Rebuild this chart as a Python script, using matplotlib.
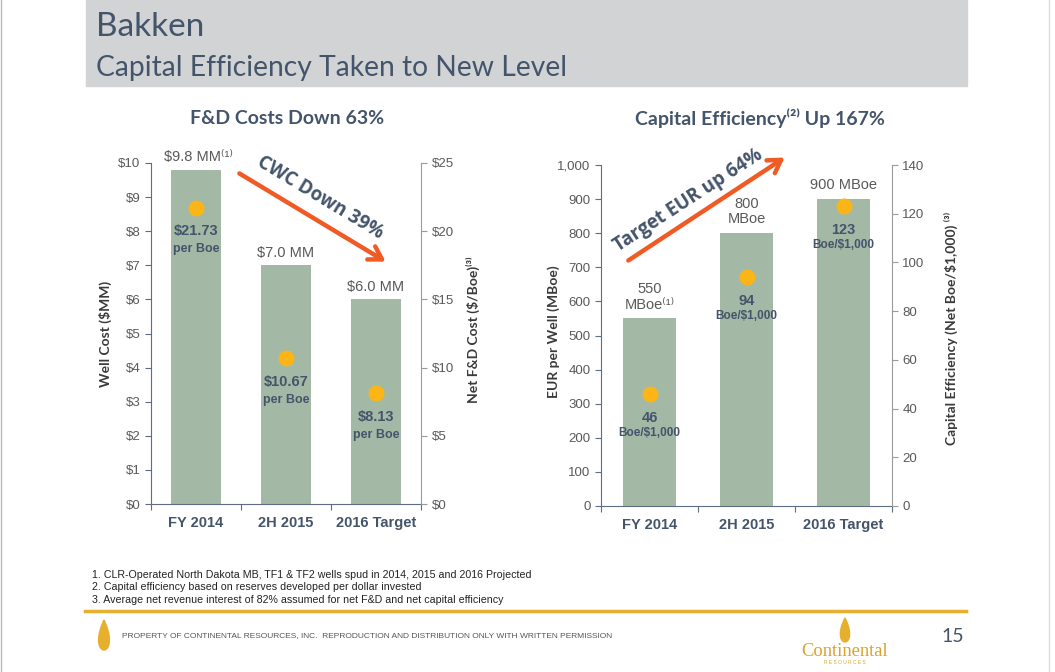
import matplotlib
matplotlib.use("Agg")
import matplotlib.pyplot as plt
import numpy as np
from matplotlib.patches import Rectangle, Polygon
from matplotlib.text import Annotation

plt.rcParams['text.parse_math'] = False
plt.rcParams['font.family'] = ['Liberation Sans', 'DejaVu Sans']

# data
categories = ['FY 2014', '2H 2015', '2016 Target']
well_cost = [9.8, 7.0, 6.0]            # $MM
fd_cost = [21.73, 10.67, 8.13]         # $/Boe
well_labels = ['$9.8 MM⁽¹⁾', '$7.0 MM', '$6.0 MM']
fd_labels = ['$21.73', '$10.67', '$8.13']

eur = [550, 800, 900]                  # MBoe
cap_eff = [46, 94, 123]                # Boe/$1,000
eur_labels = ['550\nMBoe⁽¹⁾', '800\nMBoe', '900 MBoe']

W, H = 1055, 672
BAR = '#a3b9a6'
SLATE = '#44546a'
GRAY = '#595959'
DOT = '#fbb516'
ARROW = '#f05a24'
GOLD = '#e6b02e'
TITLE_FONT = ['Lato', 'DejaVu Sans']


def fx(px):
    return px / W


def fy(py):
    return 1 - py / H


fig = plt.figure(figsize=(W / 100, H / 100), dpi=100)

# slide decoration
fig.patches.append(Rectangle((fx(86), fy(86)), fx(967) - fx(86), fy(0) - fy(86),
                             transform=fig.transFigure, color='#d1d3d5', zorder=0))
fig.lines.append(plt.Line2D([fx(1), fx(1)], [0, 1], transform=fig.transFigure, color='#bbbbbb', lw=1))
fig.lines.append(plt.Line2D([fx(1049), fx(1049)], [0, 1], transform=fig.transFigure, color='#dddddd', lw=1))
fig.text(fx(96), fy(36), 'Bakken', fontsize=24, color=SLATE, family=TITLE_FONT)
fig.text(fx(96), fy(76), 'Capital Efficiency Taken to New Level', fontsize=20.3, color=SLATE, family=TITLE_FONT)

fig.text(fx(287), fy(118), 'F&D Costs Down 63%', fontsize=14, fontweight='bold', color=SLATE,
         ha='center', va='center', family=TITLE_FONT)
fig.text(fx(760), fy(118), 'Capital Efficiency⁽²⁾ Up 167%', fontsize=14, fontweight='bold', color=SLATE,
         ha='center', va='center', family=TITLE_FONT)


def style_axes(ax, ax2):
    ax.set_xlim(-0.5, 2.5)
    for s in ['top', 'right']:
        ax.spines[s].set_visible(False)
    ax.spines['left'].set_color('#5d6d84')
    ax.spines['bottom'].set_color('#5d6d84')
    for s in ['top', 'left', 'bottom']:
        ax2.spines[s].set_visible(False)
    ax2.spines['right'].set_color('#9a9a9a')
    ax.tick_params(axis='y', colors='#5d6d84', labelcolor=GRAY, labelsize=9.5, length=4)
    ax2.tick_params(axis='y', colors='#9a9a9a', labelcolor=GRAY, labelsize=9.5, length=4)
    ax.set_xticks([-0.5, 0.5, 1.5, 2.5])
    ax.set_xticklabels([])
    ax.tick_params(axis='x', colors='#5d6d84', length=4)
    for i, c in enumerate(categories):
        ax.text(i, -0.055, c, transform=ax.get_xaxis_transform(), ha='center', va='center',
                fontsize=10.5, fontweight='bold', color=SLATE)


# left chart
ax = fig.add_axes([fx(151), fy(504), fx(421) - fx(151), fy(163) - fy(504)])
ax2 = ax.twinx()
x = np.arange(len(categories))
ax.bar(x, well_cost, width=0.55, color=BAR, zorder=1)
ax.set_ylim(0, 10)
ax.set_yticks(range(0, 11))
ax.set_yticklabels(['$%d' % v for v in range(0, 11)])
ax2.set_ylim(0, 25)
ax2.set_yticks(range(0, 26, 5))
ax2.set_yticklabels(['$%d' % v for v in range(0, 26, 5)])
style_axes(ax, ax2)
ax2.plot(x, fd_cost, 'o', color=DOT, markersize=10.5, zorder=3)
for i in x:
    ax.annotate(well_labels[i], (i, well_cost[i]), xytext=(2 if i == 0 else 0, 4), textcoords='offset points',
                ha='center', va='bottom', fontsize=10.5, color=GRAY)
    ax2.annotate(fd_labels[i], (i, fd_cost[i]), xytext=(0, -17), textcoords='offset points',
                 ha='center', va='center', fontsize=10.5, fontweight='bold', color=SLATE)
    ax2.annotate('per Boe', (i, fd_cost[i]), xytext=(0, -30), textcoords='offset points',
                 ha='center', va='center', fontsize=9, fontweight='bold', color=SLATE)
ax.set_ylabel('Well Cost ($MM)', fontsize=10, fontweight='bold', color='#3a3a3a', family=TITLE_FONT)
ax.yaxis.set_label_coords(-0.144, 0.5)
ax2.set_ylabel('Net F&D Cost ($/Boe)⁽³⁾', fontsize=10, fontweight='bold', color='#3a3a3a', family=TITLE_FONT,
               rotation=90)
ax2.yaxis.set_label_coords(1.167, 0.51)

# right chart
bx = fig.add_axes([fx(601), fy(506), fx(892) - fx(601), fy(165) - fy(506)])
bx2 = bx.twinx()
bx.bar(x, eur, width=0.55, color=BAR, zorder=1)
bx.set_ylim(0, 1000)
bx.set_yticks(range(0, 1001, 100))
bx.set_yticklabels(['{:,}'.format(v) for v in range(0, 1001, 100)])
bx2.set_ylim(0, 140)
bx2.set_yticks(range(0, 141, 20))
style_axes(bx, bx2)
bx2.plot(x, cap_eff, 'o', color=DOT, markersize=10.5, zorder=3)
for i in x:
    bx.annotate(eur_labels[i], (i, eur[i]), xytext=(0, 5), textcoords='offset points',
                ha='center', va='bottom', fontsize=10.5, color=GRAY, linespacing=1.15)
    bx2.annotate(str(cap_eff[i]), (i, cap_eff[i]), xytext=(0, -17), textcoords='offset points',
                 ha='center', va='center', fontsize=10.5, fontweight='bold', color=SLATE)
    bx2.annotate('Boe/$1,000', (i, cap_eff[i]), xytext=(0, -28), textcoords='offset points',
                 ha='center', va='center', fontsize=8.5, fontweight='bold', color=SLATE)
bx.set_ylabel('EUR per Well (MBoe)', fontsize=10, fontweight='bold', color='#3a3a3a', family=TITLE_FONT)
bx.yaxis.set_label_coords(-0.141, 0.51)
bx2.set_ylabel('Capital Efficiency (Net Boe/$1,000) ⁽³⁾', fontsize=10, fontweight='bold', color='#3a3a3a',
               family=TITLE_FONT, rotation=90)
bx2.yaxis.set_label_coords(1.179, 0.52)

# arrows
ann = dict(arrowstyle='->,head_length=0.9,head_width=0.55', color=ARROW, lw=3.2)
fig.add_artist(Annotation('', xy=(fx(388), fy(263)), xytext=(fx(237), fy(172)),
                          xycoords='figure fraction', textcoords='figure fraction', arrowprops=ann))
fig.add_artist(Annotation('', xy=(fx(787), fy(156)), xytext=(fx(626), fy(262)),
                          xycoords='figure fraction', textcoords='figure fraction', arrowprops=ann))
fig.text(fx(320), fy(198), 'CWC Down 39%', rotation=-31, rotation_mode='anchor', ha='center', va='center',
         fontsize=13.5, fontweight='bold', color=SLATE, family=['Open Sans', 'DejaVu Sans'])
fig.text(fx(688), fy(200), 'Target EUR up 64%', rotation=33, rotation_mode='anchor', ha='center', va='center',
         fontsize=13.5, fontweight='bold', color=SLATE, family=['Open Sans', 'DejaVu Sans'])

# footnotes
notes = ['1. CLR-Operated North Dakota MB, TF1 & TF2 wells spud in 2014, 2015 and 2016 Projected',
         '2. Capital efficiency based on reserves developed per dollar invested',
         '3. Average net revenue interest of 82% assumed for net F&D and net capital efficiency']
for k, n in enumerate(notes):
    fig.text(fx(92), fy(575 + 12.5 * k), n, fontsize=7.7, color='#222222', va='center',
             family=['Liberation Sans Narrow', 'Liberation Sans'])
fig.lines.append(plt.Line2D([fx(85), fx(966)], [fy(611), fy(611)], transform=fig.transFigure,
                            color=GOLD, lw=2.5))
fig.text(fx(122), fy(636), 'PROPERTY OF CONTINENTAL RESOURCES, INC.  REPRODUCTION AND DISTRIBUTION ONLY WITH WRITTEN PERMISSION',
         fontsize=6.0, color='#555555', va='center', family=['Liberation Sans Narrow', 'Liberation Sans'])


def drop(cx, top, h, w):
    t = np.linspace(0, 2 * np.pi, 80)
    px = cx + (w / 2) * np.sin(t) * np.sin(t / 2)
    py = top + h * (1 - np.cos(t)) / 2
    return np.column_stack([fx(px), fy(py)])


fig.patches.append(Polygon(drop(104, 620, 30, 14), closed=True, transform=fig.transFigure,
                           color=GOLD, zorder=2))
fig.patches.append(Polygon(drop(845, 618, 24, 12), closed=True, transform=fig.transFigure,
                           color=GOLD, zorder=2))
fig.text(fx(845), fy(651), 'Continental', fontsize=13.3, color='#d9a32a', ha='center', va='center',
         family=['Liberation Serif', 'DejaVu Serif'])
fig.text(fx(845), fy(663), 'R E S O U R C E S', fontsize=3.5, color='#d9a32a', ha='center', va='center')
fig.text(fx(953), fy(636), '15', fontsize=14, color=SLATE, ha='center', va='center', family=TITLE_FONT)

fig.savefig('out.png', dpi=100)
